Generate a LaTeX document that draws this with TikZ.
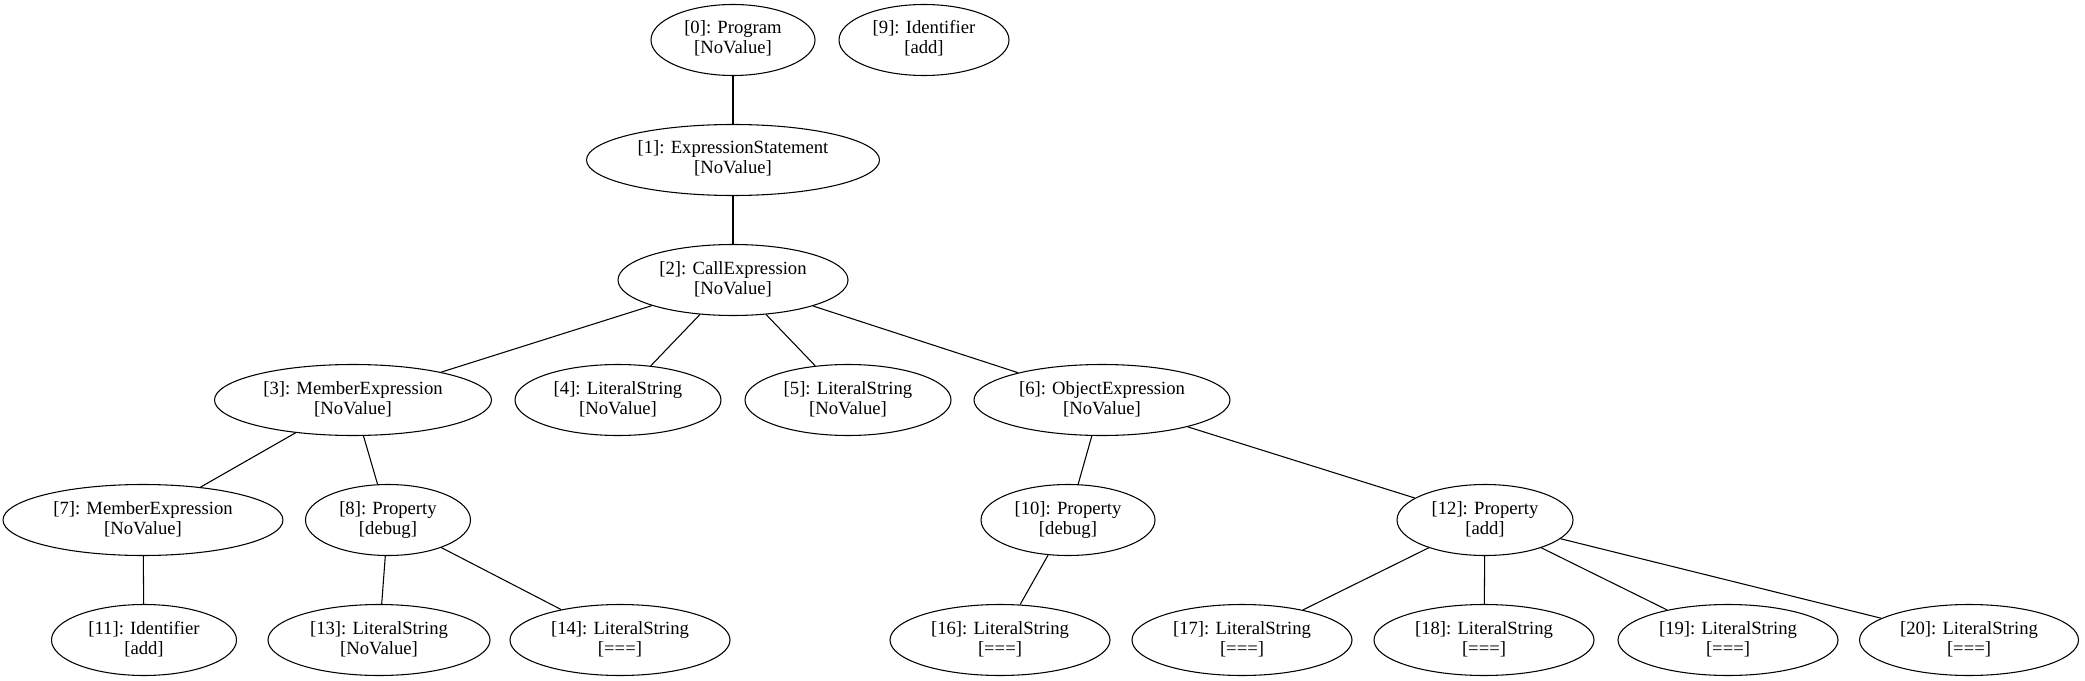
\documentclass[tikz,border=0pt]{standalone}
\usepackage{fontspec}
\setmainfont{Liberation Serif}
\usetikzlibrary{shapes.geometric}
\newcommand{\astlbl}[2]{\makebox[0pt]{\raisebox{-2pt}{\begin{tabular}{@{}c@{}}#1\\[0pt]#2\end{tabular}}}}
\tikzset{
  astnode/.style={draw, ellipse, line width=0.8pt, inner sep=0pt, minimum height=53.25pt},
  astedge/.style={line width=0.8pt}
}
\begin{document}
\begin{tikzpicture}[x=0.75pt, y=-0.75pt, font=\fontsize{14}{15}\selectfont]
  \useasboundingbox (0,0) rectangle (2085,681);
  \foreach \i/\x/\y/\w/\a/\b in {
      0/733/40/164/Program/NoValue, 9/924/40/170/Identifier/add,
      1/733/160/293/ExpressionStatement/NoValue,
      2/733/280/230/CallExpression/NoValue,
      3/353/400/277/MemberExpression/NoValue, 4/618/400/206/LiteralString/NoValue,
      5/848/400/206/LiteralString/NoValue, 6/1102/400/256/ObjectExpression/NoValue,
      7/143/520/280/MemberExpression/NoValue, 8/388/520/165/Property/debug,
      10/1068/520/174/Property/debug, 12/1485/520/176/Property/add,
      11/144/640/185/Identifier/add, 13/379/640/222/LiteralString/NoValue,
      14/620/640/220/LiteralString/===, 16/1000/640/220/LiteralString/===,
      17/1242/640/220/LiteralString/===, 18/1484/640/220/LiteralString/===,
      19/1728/640/220/LiteralString/===, 20/1969/640/219/LiteralString/===} {
    \node[astnode, minimum width={0.75pt*\w}] (n\i) at (\x,\y) {\astlbl{[\i]: \a}{[\b]}};
  }
  \foreach \p/\c in {0/1, 1/2, 2/3, 2/4, 2/5, 2/6, 3/7, 3/8, 6/10, 6/12,
      7/11, 8/13, 8/14, 10/16, 12/17, 12/18, 12/19, 12/20}
    \draw[astedge] (n\p) -- (n\c);
\end{tikzpicture}
\end{document}
